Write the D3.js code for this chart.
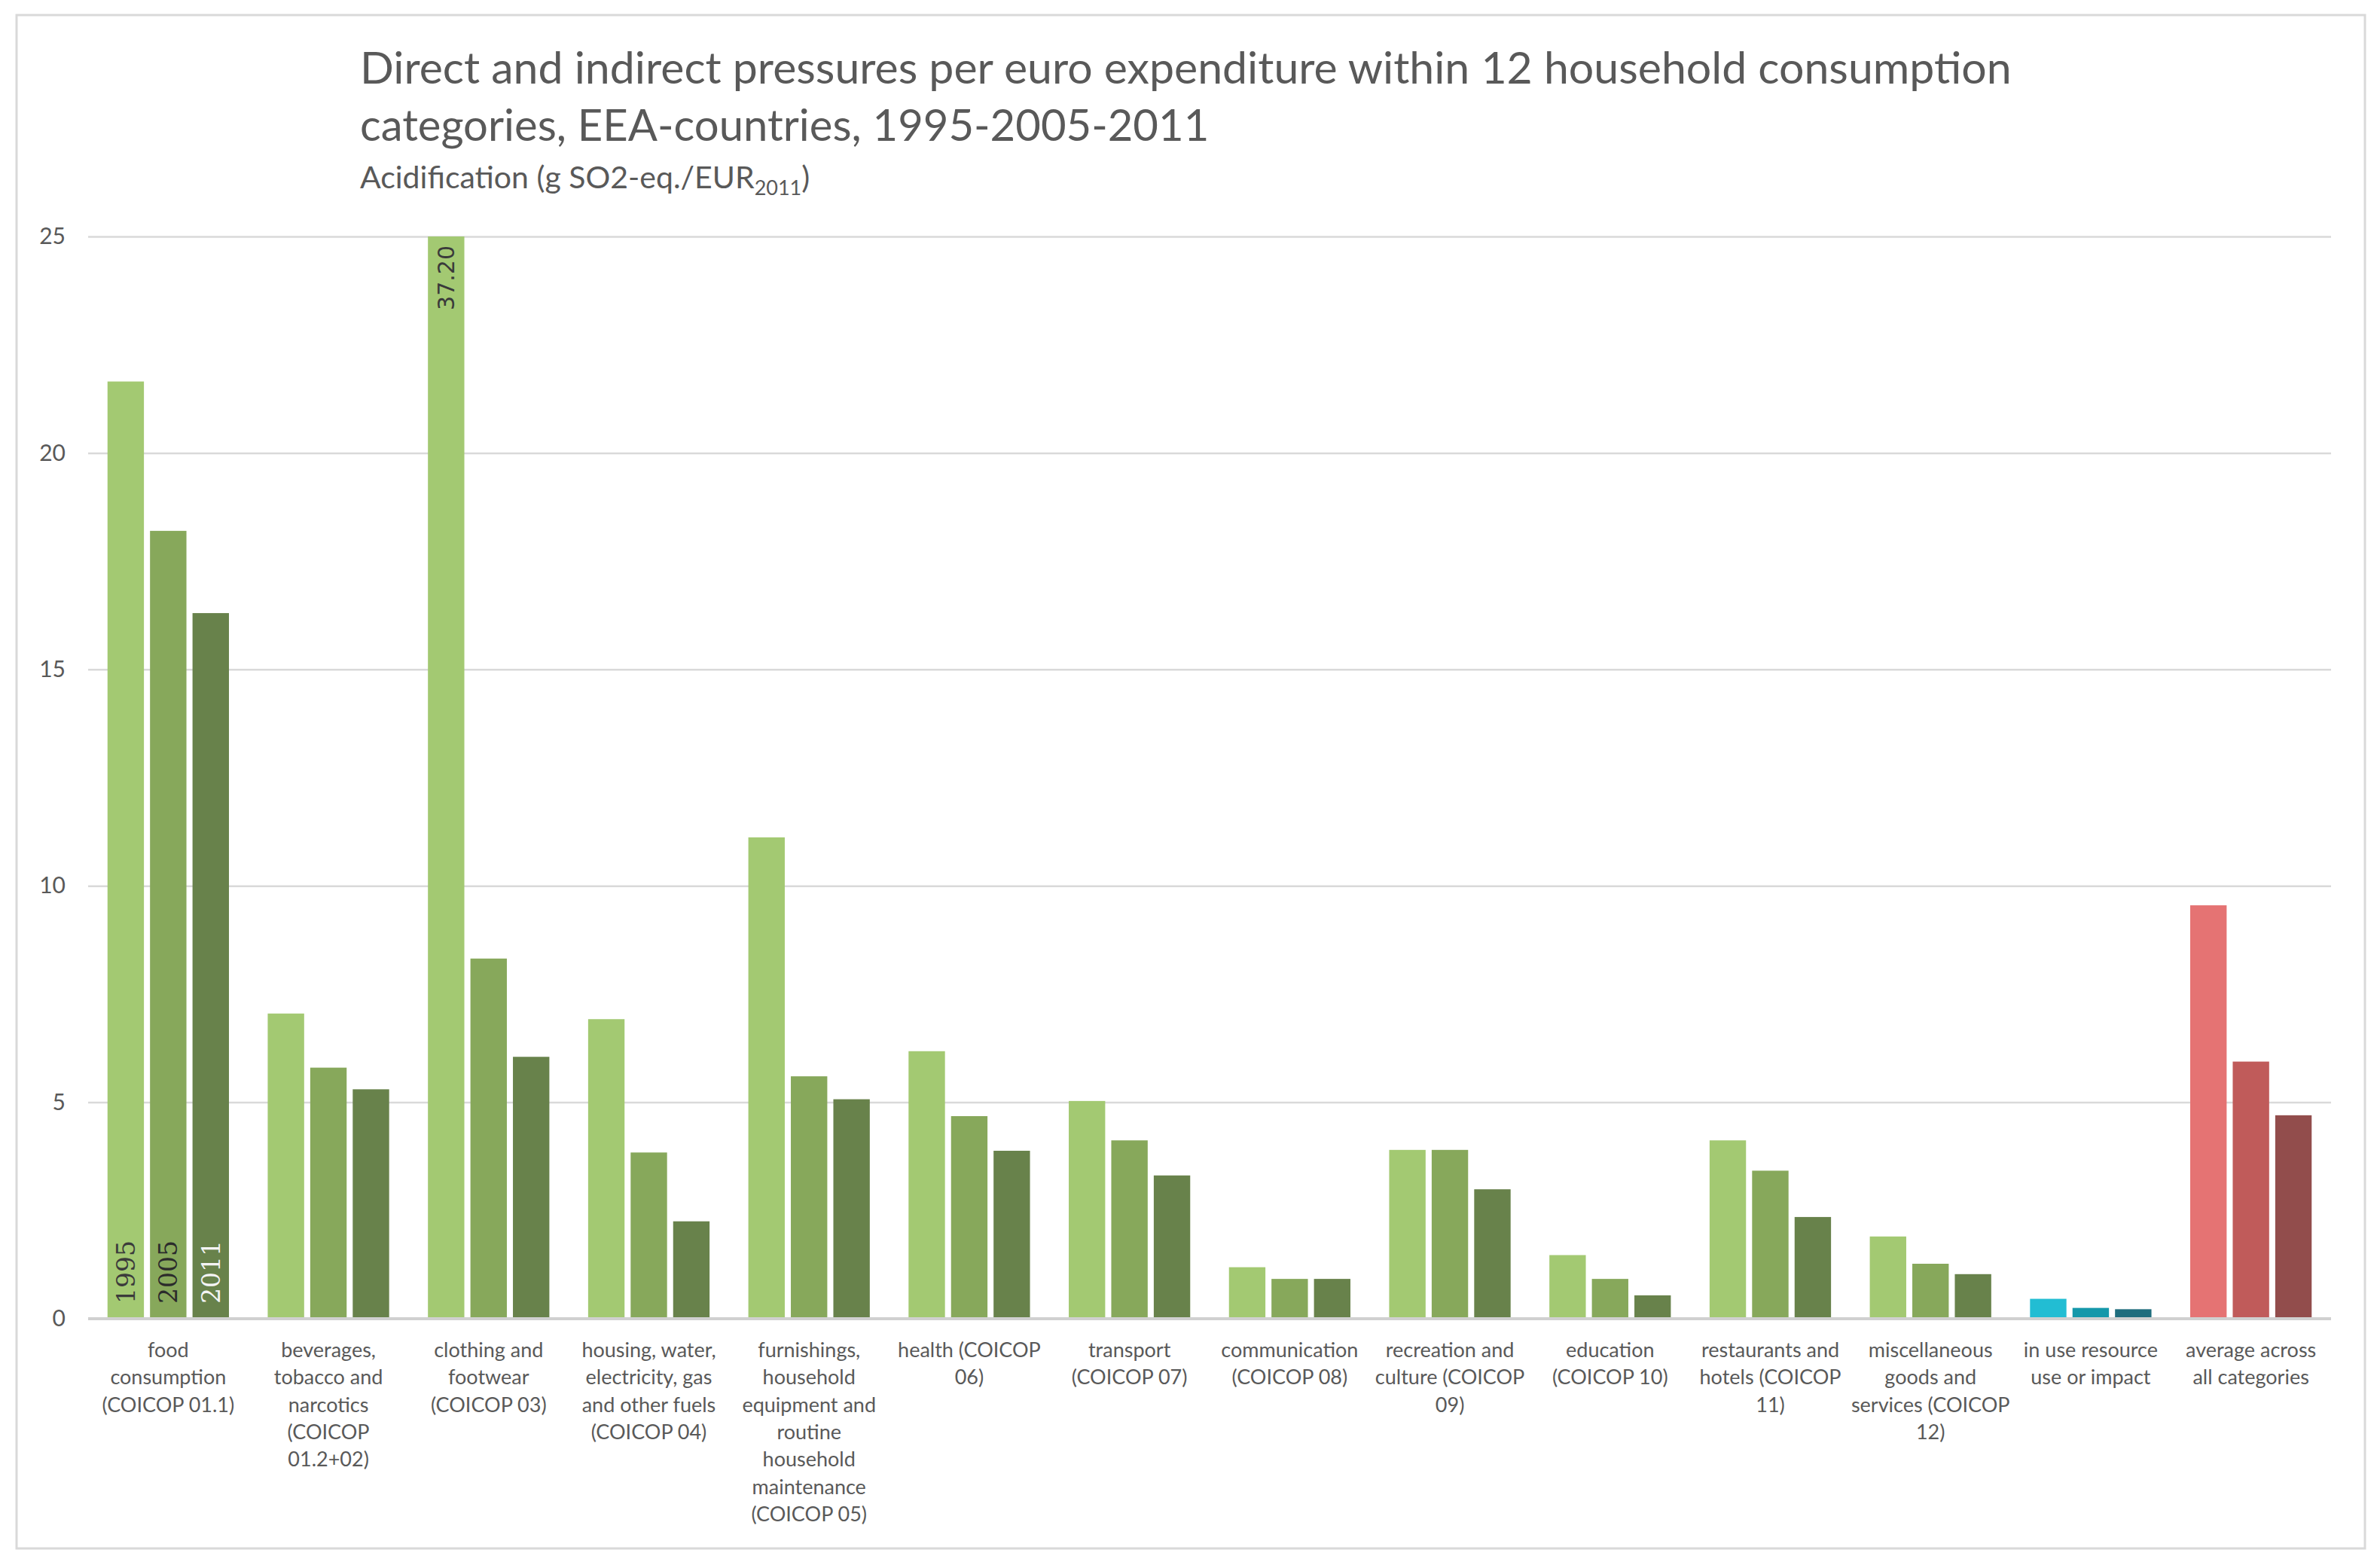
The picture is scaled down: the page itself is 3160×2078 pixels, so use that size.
<!DOCTYPE html>
<html>
<head>
<meta charset="utf-8">
<script src="https://cdn.jsdelivr.net/npm/d3@7/dist/d3.min.js"></script>
<style>
  body { margin: 0; background: #fff; }
  text { font-family: Lato, "Open Sans", sans-serif; }
</style>
</head>
<body>
<div id="chart"></div>
<script>
// Data
const categories = [
  ["food", "consumption", "(COICOP 01.1)"],
  ["beverages,", "tobacco and", "narcotics", "(COICOP", "01.2+02)"],
  ["clothing and", "footwear", "(COICOP 03)"],
  ["housing, water,", "electricity, gas", "and other fuels", "(COICOP 04)"],
  ["furnishings,", "household", "equipment and", "routine", "household", "maintenance", "(COICOP 05)"],
  ["health (COICOP", "06)"],
  ["transport", "(COICOP 07)"],
  ["communication", "(COICOP 08)"],
  ["recreation and", "culture (COICOP", "09)"],
  ["education", "(COICOP 10)"],
  ["restaurants and", "hotels (COICOP", "11)"],
  ["miscellaneous", "goods and", "services (COICOP", "12)"],
  ["in use resource", "use or impact"],
  ["average across", "all categories"]
];
const years = ["1995", "2005", "2011"];
const values1995 = [21.65, 7.05, 37.20, 6.92, 11.12, 6.18, 5.03, 1.19, 3.90, 1.47, 4.12, 1.90, 0.46, 9.55];
const values2005 = [18.20, 5.80, 8.32, 3.84, 5.60, 4.68, 4.12, 0.92, 3.90, 0.92, 3.42, 1.27, 0.25, 5.94];
const values2011 = [16.30, 5.30, 6.05, 2.25, 5.07, 3.88, 3.31, 0.92, 2.99, 0.54, 2.35, 1.03, 0.22, 4.70];
const yTicks = [0, 5, 10, 15, 20, 25];

// colour sets: household categories, in-use, average
const greens = ["#a3c972", "#87a85b", "#68824b"];
const blues = ["#22bdd3", "#1598aa", "#1f6d7d"];
const reds = ["#e57373", "#c05b5a", "#924d4c"];

const svgWidth = 3160, svgHeight = 2078;
const margin = {top: 314, right: 65, bottom: 327, left: 117};

const svg = d3.select('#chart').append('svg')
  .attr('width', svgWidth)
  .attr('height', svgHeight);

// outer frame
svg.append('rect')
  .attr('x', 22).attr('y', 20)
  .attr('width', 3118).attr('height', 2036)
  .attr('fill', '#fff')
  .attr('stroke', '#d9d9d9')
  .attr('stroke-width', 3);

// Titles
const titleG = svg.append('g').attr('fill', '#595959');
titleG.append('text')
  .attr('x', 478).attr('y', 111)
  .style('font-size', '59px')
  .text('Direct and indirect pressures per euro expenditure within 12 household consumption');
titleG.append('text')
  .attr('x', 478).attr('y', 187)
  .style('font-size', '58px')
  .text('categories, EEA-countries, 1995-2005-2011');
const sub = titleG.append('text')
  .attr('x', 478).attr('y', 250)
  .style('font-size', '41px');
sub.append('tspan').text('Acidification (g SO2-eq./EUR');
sub.append('tspan').attr('dy', 9).style('font-size', '27px').text('2011');
sub.append('tspan').attr('dy', -9).text(')');

// Scales
const x0 = d3.scaleBand()
  .domain(d3.range(categories.length))
  .range([margin.left, svgWidth - margin.right])
  .paddingInner(0.242)
  .paddingOuter(0.121);

const x1 = d3.scaleBand()
  .domain(years)
  .range([0, x0.bandwidth()])
  .paddingInner(0.143)
  .paddingOuter(0);

const y = d3.scaleLinear()
  .domain([0, 25])
  .range([svgHeight - margin.bottom, margin.top]);

// Gridlines + y labels via axis
const yAxis = d3.axisLeft(y)
  .tickValues(yTicks)
  .tickSize(-(svgWidth - margin.right - margin.left))
  .tickPadding(30);

const gy = svg.append('g')
  .attr('transform', 'translate(' + margin.left + ',0)')
  .call(yAxis);
gy.select('.domain').remove();
gy.selectAll('.tick line')
  .attr('stroke', '#d9d9d9')
  .attr('stroke-width', 2.5);
gy.selectAll('.tick text')
  .attr('fill', '#595959')
  .style('font-size', '30px')
  .style('font-family', 'Lato, sans-serif');

// Bars
const rows = categories.map((c, i) => ({
  i: i,
  vals: [values1995[i], values2005[i], values2011[i]]
}));

function palette(i) {
  if (i === categories.length - 1) return reds;
  if (i === categories.length - 2) return blues;
  return greens;
}

const group = svg.selectAll('.cat')
  .data(rows)
  .enter().append('g')
    .attr('class', 'cat')
    .attr('transform', d => 'translate(' + x0(d.i) + ',0)');

group.selectAll('rect')
  .data(d => d.vals.map((v, k) => ({cat: d.i, year: years[k], k: k, value: v})))
  .enter().append('rect')
    .attr('x', d => x1(d.year))
    .attr('width', x1.bandwidth())
    .attr('y', d => y(Math.min(d.value, 25)))
    .attr('height', d => y(0) - y(Math.min(d.value, 25)))
    .attr('fill', d => palette(d.cat)[d.k]);

// Zero axis line
svg.append('line')
  .attr('x1', margin.left).attr('x2', svgWidth - margin.right)
  .attr('y1', y(0)).attr('y2', y(0))
  .attr('stroke', '#d0d0d0')
  .attr('stroke-width', 4);

// Year labels inside the first group's bars
const yearColors = ['#3b3b3b', '#2b2b2b', '#f4f4f4'];
svg.append('g').selectAll('text')
  .data(years)
  .enter().append('text')
    .attr('transform', (d, k) => 'translate(' + (x0(0) + x1(d) + x1.bandwidth() / 2 + 12) + ',' + (y(0) - 20) + ') rotate(-90)')
    .attr('fill', (d, k) => yearColors[k])
    .style('font-family', '"DejaVu Serif", serif')
    .style('font-size', '33px')
    .text(d => d);

// Clipped value label on the clothing 1995 bar
const clipped = rows.filter(r => r.vals[0] > 25);
svg.append('g').selectAll('text')
  .data(clipped)
  .enter().append('text')
    .attr('transform', d => 'translate(' + (x0(d.i) + x1(years[0]) + x1.bandwidth() / 2 + 11) + ',' + (y(25) + 12) + ') rotate(-90)')
    .attr('text-anchor', 'end')
    .attr('fill', '#3a3a3a')
    .style('font-family', '"DejaVu Sans", sans-serif')
    .style('font-size', '30px')
    .text(d => d.vals[0].toFixed(2));

// Category labels
const labels = svg.append('g').selectAll('text')
  .data(categories)
  .enter().append('text')
    .attr('text-anchor', 'middle')
    .attr('fill', '#595959')
    .style('font-size', '27px')
    .attr('transform', (d, i) => 'translate(' + (x0(i) + x0.bandwidth() / 2) + ',' + 1802 + ')');

labels.selectAll('tspan')
  .data(d => d)
  .enter().append('tspan')
    .attr('x', 0)
    .attr('y', (d, j) => j * 36.3)
    .text(d => d);
</script>
</body>
</html>
